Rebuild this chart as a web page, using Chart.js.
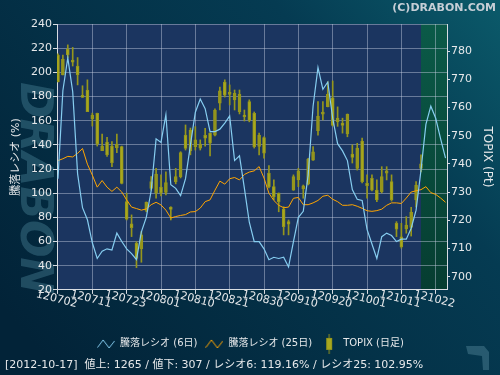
<!DOCTYPE html>
<html>
<head>
<meta charset="utf-8">
<script src="https://cdn.jsdelivr.net/npm/chart.js@4.4.0/dist/chart.umd.min.js"></script>
<style>
html, body { margin: 0; padding: 0; background: #022338; }
#wrap { width: 500px; height: 375px; }
</style>
</head>
<body>
<div id="wrap"><canvas id="chart"></canvas></div>
<script>
// x axis: one step per trading day, a tick every 7 days
var tickLabels = ['120702', '120711', '120723', '120801', '120810', '120821',
	'120830', '120910', '120920', '121001', '121011', '121022'];
var tickIndex = [0, 7, 14, 21, 28, 35, 42, 49, 56, 63, 70, 77];
var lastDay = 74; // 2012-10-17

// 騰落レシオ (6日)
var ratio6 = [112, 185, 212, 184, 116, 88, 78, 59, 46, 52,
	54, 53, 67, 60, 54, 50, 45, 68, 80, 102,
	145, 142, 165, 107, 104, 98, 112, 140, 167, 178,
	170, 151, 151, 153, 158, 164, 127, 131, 104, 76,
	60, 60, 54, 45, 47, 46, 47, 39, 60, 80,
	85, 115, 172, 204, 186, 192, 162, 141, 135, 127,
	103, 95, 94, 70, 58, 46, 64, 67, 65, 60,
	62, 62, 71, 86, 119.16, 157, 172, 162, 145, 129];

// 騰落レシオ (25日)
var ratio25 = [127, 128.5, 130.5, 130, 133, 137, 124, 115, 105, 110.5,
	105, 101.5, 105, 101, 94.4, 88.5, 87.3, 86, 87, 90.5,
	92.5, 90.3, 86, 79.5, 80.7, 81.6, 82.3, 84.5, 84.8, 87.7,
	93, 94.5, 102.5, 110, 107.5, 112, 113, 111, 115.5, 117.5,
	118.5, 122, 112.5, 100, 94, 90, 88, 88.5, 95.8, 96.5,
	90.5, 90.5, 92, 94, 97.5, 98.3, 95, 93, 90, 90,
	90.5, 89.2, 87.5, 85.5, 85, 85.6, 86.8, 90, 92, 92,
	91.5, 96, 101, 102, 102.95, 105.4, 100.5, 99, 96, 92.5];

// TOPIX 日足
var topixOpen = [778.6, 771.5, 780.6, 776.8, 774.7, 764.3, 766.2, 755.9, 757.9, 744.7,
	747.7, 746.3, 745.7, 746.1, 726.6, 718.7, 711.8, 709.8, 723.5, 733.7,
	729.6, 731.8, 729.9, 724.7, 733.7, 735.5, 750.2, 744.6, 746.1, 745.6,
	750.1, 750.9, 750.2, 761.5, 769.0, 764.6, 762.7, 758.5, 757.3, 762.1,
	757.9, 746.2, 749.3, 736.7, 731.9, 729.6, 724.0, 719.5, 730.7, 734.3,
	731.1, 732.8, 741.3, 751.8, 757.6, 760.3, 763.4, 754.9, 754.5, 750.6,
	743.5, 738.4, 748.1, 733.1, 734.9, 730.7, 730.1, 736.7, 733.7, 718.9,
	714.1, 716.9, 717.5, 727.2, 738.4];
var topixClose = [769.1, 777.1, 778.6, 776.1, 771.5, 763.6, 758.5, 757.3, 747.1, 746.3,
	743.2, 740.4, 747.0, 733.1, 720.4, 717.4, 706.5, 714.8, 726.4, 731.3,
	736.4, 729.7, 733.4, 723.8, 735.5, 744.0, 745.5, 752.0, 748.5, 747.0,
	749.1, 747.3, 759.1, 765.9, 764.4, 765.5, 765.0, 764.7, 756.7, 755.4,
	746.1, 750.2, 743.8, 731.8, 728.4, 726.6, 717.7, 718.6, 735.5, 737.5,
	732.2, 741.6, 744.3, 756.9, 758.4, 764.7, 753.6, 756.2, 753.6, 757.6,
	742.3, 745.6, 733.7, 732.3, 730.7, 727.2, 735.5, 737.5, 727.2, 716.8,
	710.5, 718.3, 722.8, 732.5, 740.0];
var topixHigh = [779.0, 778.6, 782.2, 781.3, 777.7, 767.7, 769.8, 758.0, 758.0, 750.6,
	749.4, 747.9, 750.6, 746.3, 729.6, 721.9, 712.4, 716.0, 726.5, 735.5,
	738.4, 736.1, 737.2, 724.8, 738.4, 744.3, 753.8, 752.7, 753.2, 748.5,
	752.6, 751.0, 759.5, 767.2, 769.8, 768.0, 766.2, 766.2, 759.1, 762.7,
	758.4, 750.9, 749.6, 739.4, 734.3, 729.7, 724.8, 720.1, 736.1, 738.4,
	732.5, 742.0, 746.1, 762.1, 762.1, 769.1, 769.4, 760.2, 756.2, 757.7,
	746.7, 747.3, 749.1, 736.1, 736.1, 734.3, 739.0, 739.0, 736.1, 719.5,
	718.9, 721.3, 724.6, 733.7, 743.2];
var topixLow = [769.1, 771.5, 777.6, 774.7, 768.0, 763.6, 758.5, 753.4, 746.3, 744.7,
	742.6, 739.0, 744.0, 732.9, 720.1, 714.2, 703.2, 705.1, 723.0, 730.7,
	727.8, 728.6, 729.0, 720.1, 732.9, 735.0, 744.9, 743.2, 744.9, 744.9,
	746.3, 742.8, 749.9, 759.1, 763.7, 760.9, 759.1, 757.7, 755.2, 754.9,
	745.6, 743.2, 742.0, 731.5, 727.2, 723.0, 714.8, 714.8, 730.6, 731.9,
	727.8, 732.5, 741.2, 750.2, 755.6, 760.2, 753.4, 753.3, 750.9, 749.6,
	740.3, 737.8, 733.2, 727.8, 730.4, 726.6, 729.7, 734.3, 726.8, 714.2,
	710.1, 715.4, 714.4, 724.7, 737.1];

var footerText = '[2012-10-17]  値上: 1265 / 値下: 307 / レシオ6: 119.16% / レシオ25: 102.95%';

var blue = '#86cdf0';
var orange = '#ffa500';
var candleFill = 'rgb(168,168,30)';
var candleLine = 'rgb(150,150,28)';
var gridColor = 'rgba(200,206,226,0.45)';
var axisColor = '#d8dce2';
var textColor = '#e6e8ea';

Chart.defaults.font.family = '"DejaVu Sans", "Noto Sans CJK JP", sans-serif';
Chart.defaults.font.size = 11;

var line6 = ratio6.map(function (v, i) { return { x: i, y: v }; });
var line25 = ratio25.map(function (v, i) { return { x: i, y: v }; });
var bodies = [], wicks = [];
for (var i = 0; i < topixOpen.length; i++) {
	bodies.push({ x: i, y: [topixOpen[i], topixClose[i]] });
	wicks.push({ x: i, y: [topixLow[i], topixHigh[i]] });
}

function zigzag(color) {
	var c = document.createElement('canvas');
	c.width = 18; c.height = 10;
	var g = c.getContext('2d');
	g.strokeStyle = color;
	g.lineWidth = 1;
	g.beginPath();
	g.moveTo(0.5, 8.5); g.lineTo(6, 1); g.lineTo(12, 9); g.lineTo(17.5, 2);
	g.stroke();
	return c;
}
function candleIcon() {
	var c = document.createElement('canvas');
	c.width = 8; c.height = 20;
	var g = c.getContext('2d');
	g.fillStyle = candleLine;
	g.fillRect(3.5, 0, 1, 20);
	g.fillStyle = candleFill;
	g.fillRect(1, 4, 6, 12);
	g.strokeStyle = candleLine;
	g.strokeRect(1.5, 4.5, 5, 11);
	return c;
}

// backgrounds, plot fill, forecast band, watermark
var backdrop = {
	id: 'backdrop',
	beforeDraw: function (chart) {
		var ctx = chart.ctx, a = chart.chartArea, w = chart.width, h = chart.height;
		ctx.save();
		var g = ctx.createLinearGradient(w, 0, 60, h);
		g.addColorStop(0, '#0b5a6a');
		g.addColorStop(0.3, '#053b52');
		g.addColorStop(1, '#022338');
		ctx.fillStyle = g;
		ctx.fillRect(0, 0, w, h);

		ctx.save();
		ctx.translate(32, 188);
		ctx.rotate(Math.PI / 2);
		ctx.font = 'italic bold 44px "DejaVu Sans"';
		ctx.fillStyle = 'rgba(90,150,170,0.35)';
		ctx.textAlign = 'center';
		ctx.textBaseline = 'middle';
		ctx.fillText('DRABON', 0, 0);
		ctx.restore();

		ctx.fillStyle = 'rgba(70,120,140,0.55)';
		ctx.beginPath();
		ctx.moveTo(466, 346); ctx.lineTo(484, 346); ctx.lineTo(489, 352); ctx.lineTo(489, 370);
		ctx.lineTo(483, 370); ctx.lineTo(482, 356); ctx.lineTo(468, 354);
		ctx.closePath();
		ctx.fill();

		ctx.fillStyle = '#1b3560';
		ctx.fillRect(a.left, a.top, a.right - a.left, a.bottom - a.top);
		var gx = chart.scales.x.getPixelForValue(lastDay);
		var gg = ctx.createLinearGradient(0, a.top, 0, a.bottom);
		gg.addColorStop(0, '#0b5a48');
		gg.addColorStop(1, '#063d31');
		ctx.fillStyle = gg;
		ctx.fillRect(gx, a.top, a.right - gx, a.bottom - a.top);
		ctx.restore();
	}
};

var ctx = document.getElementById('chart').getContext('2d');
var chart = new Chart(ctx, {
	type: 'bar',
	data: {
		datasets: [{
			type: 'line',
			label: '騰落レシオ (6日)',
			data: line6,
			yAxisID: 'y',
			borderColor: blue,
			borderWidth: 1.2,
			pointRadius: 0,
			tension: 0
		}, {
			type: 'line',
			label: '騰落レシオ (25日)',
			data: line25,
			yAxisID: 'y',
			borderColor: orange,
			borderWidth: 1,
			pointRadius: 0,
			tension: 0
		}, {
			label: 'TOPIX (日足)',
			data: bodies,
			yAxisID: 'y2',
			grouped: false,
			barThickness: 3,
			borderWidth: 1,
			borderSkipped: false,
			borderColor: candleLine,
			backgroundColor: function (c) {
				var k = c.dataIndex;
				return topixClose[k] < topixOpen[k] ? candleFill : 'rgba(0,0,0,0)';
			}
		}, {
			label: 'wick',
			data: wicks,
			yAxisID: 'y2',
			grouped: false,
			barThickness: 1,
			borderWidth: 0,
			backgroundColor: candleLine
		}]
	},
	options: {
		responsive: true,
		maintainAspectRatio: false,
		animation: false,
		layout: { padding: { left: 5, right: 4, top: 0, bottom: 0 } },
		scales: {
			x: {
				type: 'linear',
				min: -0.2,
				max: 79.3,
				offset: false,
				afterBuildTicks: function (s) {
					s.ticks = tickIndex.map(function (v) { return { value: v }; });
				},
				afterFit: function (s) { s.height = 41; },
				ticks: {
					autoSkip: false,
					minRotation: -14,
					maxRotation: -14,
					labelOffset: 19,
					padding: 4,
					color: textColor,
					font: { size: 11 },
					callback: function (v, idx) { return tickLabels[idx]; }
				},
				grid: {
					offset: false,
					color: function (c) { return c.index === 0 ? 'rgba(0,0,0,0)' : gridColor; },
					tickColor: axisColor,
					tickLength: 4
				},
				border: { color: axisColor, width: 1 }
			},
			y: {
				position: 'left',
				min: 20,
				max: 240,
				afterFit: function (s) { s.width = 52; },
				ticks: { stepSize: 20, color: textColor, font: { size: 11 }, padding: 1 },
				grid: { color: gridColor, tickColor: axisColor, tickLength: 4 },
				border: { color: axisColor, width: 1 },
				title: {
					display: true,
					text: '騰落レシオ (%)',
					color: textColor,
					font: { size: 11 },
					padding: { top: 5, bottom: 0 }
				}
			},
			y2: {
				position: 'right',
				min: 695.3,
				max: 789.6,
				afterBuildTicks: function (s) {
					s.ticks = [700, 710, 720, 730, 740, 750, 760, 770, 780].map(function (v) { return { value: v }; });
				},
				afterFit: function (s) { s.width = 49; },
				ticks: { color: textColor, font: { size: 11 }, padding: 1 },
				grid: { drawOnChartArea: false, tickColor: axisColor, tickLength: 3 },
				border: { color: axisColor, width: 1 },
				title: {
					display: true,
					text: 'TOPIX (Pt)',
					color: textColor,
					font: { size: 12 },
					padding: { top: 2, bottom: 0 }
				}
			}
		},
		plugins: {
			title: {
				display: true,
				text: '(C)DRABON.COM',
				align: 'end',
				color: '#c6ced6',
				font: { size: 11, weight: 'bold' },
				padding: { top: 1.5, bottom: 9.3 }
			},
			subtitle: {
				display: true,
				position: 'bottom',
				align: 'start',
				text: footerText,
				color: textColor,
				font: { size: 11 },
				padding: { top: 0, bottom: 2.9 }
			},
			legend: {
				position: 'bottom',
				labels: {
					usePointStyle: true,
					pointStyleWidth: 18,
					padding: 8,
					color: textColor,
					font: { size: 10 },
					generateLabels: function () {
						return [
							{ text: '騰落レシオ (6日)', pointStyle: zigzag(blue), fillStyle: 'rgba(0,0,0,0)', strokeStyle: 'rgba(0,0,0,0)', lineWidth: 0, fontColor: textColor, datasetIndex: 0 },
							{ text: '騰落レシオ (25日)', pointStyle: zigzag(orange), fillStyle: 'rgba(0,0,0,0)', strokeStyle: 'rgba(0,0,0,0)', lineWidth: 0, fontColor: textColor, datasetIndex: 1 },
							{ text: 'TOPIX (日足)', pointStyle: candleIcon(), fillStyle: 'rgba(0,0,0,0)', strokeStyle: 'rgba(0,0,0,0)', lineWidth: 0, fontColor: textColor, datasetIndex: 2 }
						];
					}
				}
			},
			tooltip: { enabled: false }
		}
	},
	plugins: [backdrop]
});
</script>
</body>
</html>
